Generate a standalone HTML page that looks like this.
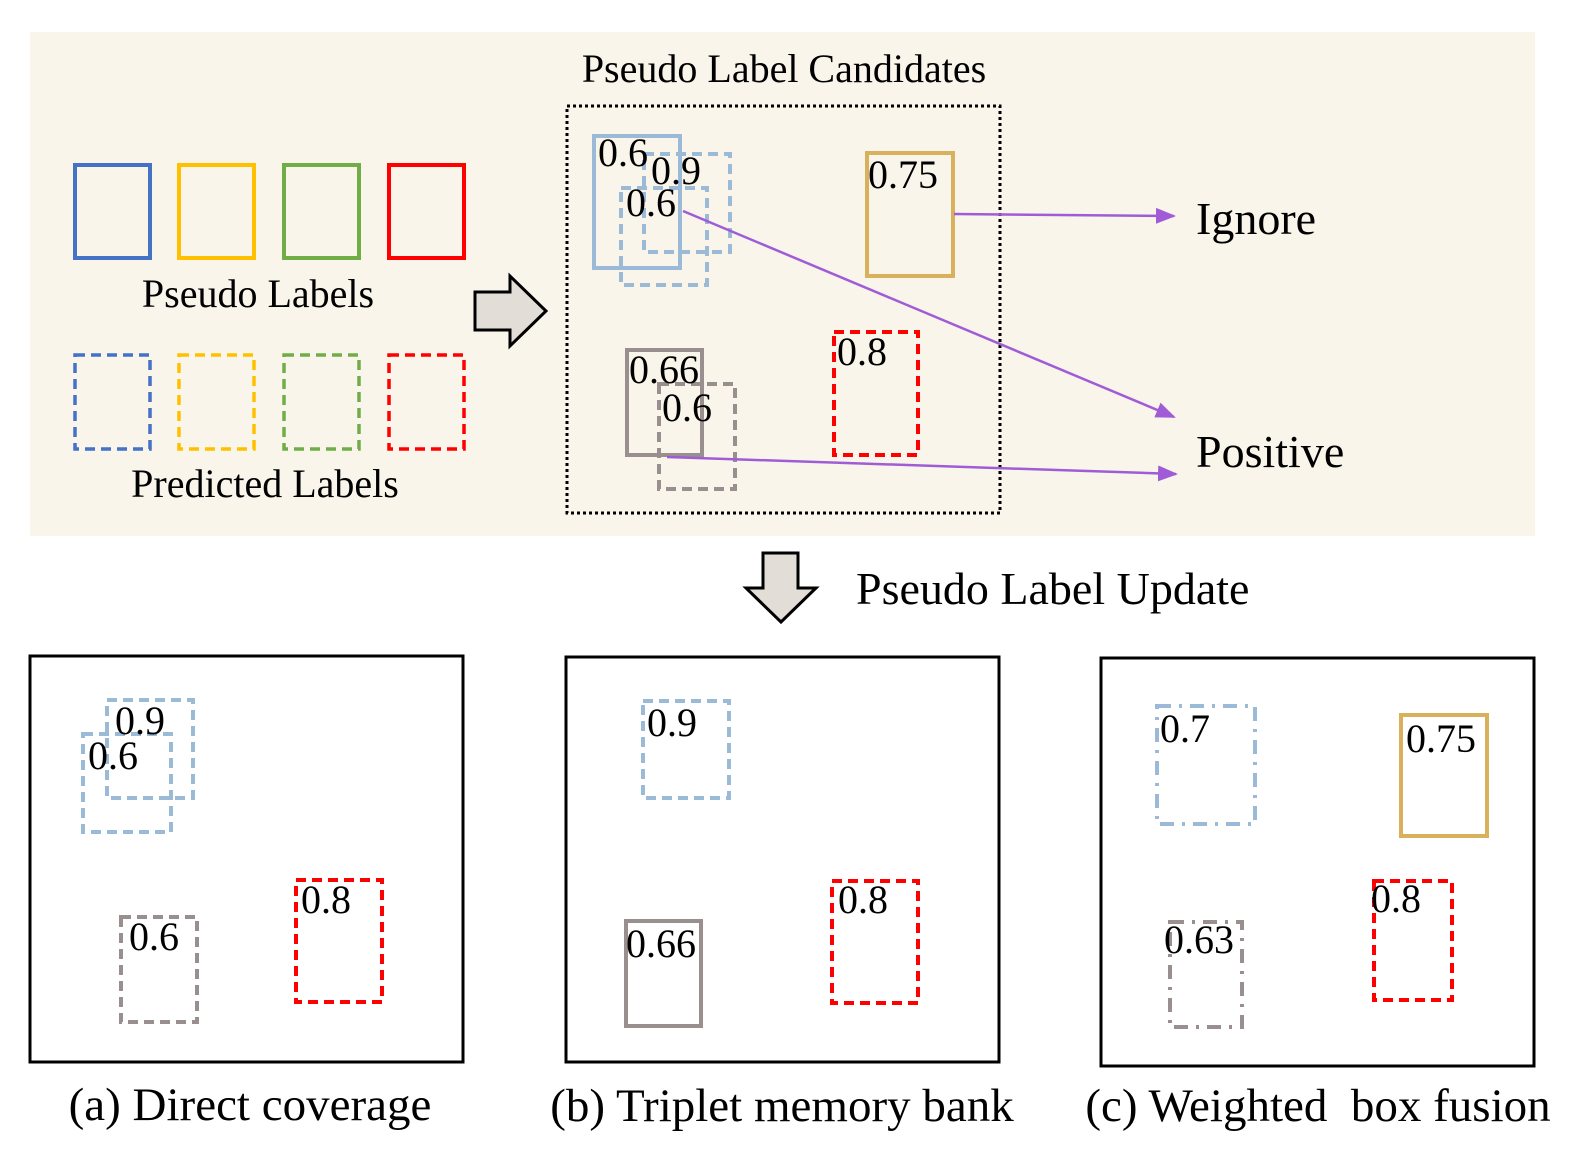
<!DOCTYPE html>
<html><head><style>html,body{margin:0;padding:0;overflow:hidden;background:#fff}svg{display:block}text{font-family:"Liberation Serif",serif;fill:#000}</style></head><body>
<svg width="1576" height="1166" viewBox="0 0 1576 1166" xmlns="http://www.w3.org/2000/svg">
<defs>
<marker id="ah2" viewBox="0 0 10 10" refX="9" refY="5" markerWidth="20" markerHeight="16" orient="auto" markerUnits="userSpaceOnUse" preserveAspectRatio="none"><path d="M0,0 L10,5 L0,10z" fill="#a05cd6"/></marker></defs>
<rect x="30" y="32" width="1505" height="504" fill="#f9f5eb"/>
<g fill="none" stroke-width="4">
<rect x="75" y="165" width="75" height="93" stroke="#4472c4"/>
<rect x="179" y="165" width="75" height="93" stroke="#ffc000"/>
<rect x="284" y="165" width="75" height="93" stroke="#70ad47"/>
<rect x="389" y="165" width="75" height="93" stroke="#ff0000"/>
<g stroke-dasharray="10,6" stroke-width="3.5">
<rect x="75" y="355" width="75" height="94" stroke="#4472c4"/>
<rect x="179" y="355" width="75" height="94" stroke="#ffc000"/>
<rect x="284" y="355" width="75" height="94" stroke="#70ad47"/>
<rect x="389" y="355" width="75" height="94" stroke="#ff0000"/>
</g></g>
<text x="258" y="307" font-size="40" text-anchor="middle">Pseudo Labels</text>
<text x="265" y="497" font-size="40" text-anchor="middle">Predicted Labels</text>
<path d="M475,292 H510 V276 L546,311 L510,346 V330 H475Z" fill="#e3ddd8" stroke="#000" stroke-width="3"/>
<text x="784" y="82" font-size="40" text-anchor="middle">Pseudo Label Candidates</text>
<rect x="567" y="106" width="433" height="407" fill="none" stroke="#000" stroke-width="3" stroke-dasharray="3,3"/>
<g fill="none" stroke-width="4">
<rect x="594" y="136" width="86" height="132" stroke="#9bbad8"/>
<rect x="644" y="154" width="86" height="98" stroke="#9bbad8" stroke-dasharray="10,6"/>
<rect x="621" y="188" width="86" height="97" stroke="#9bbad8" stroke-dasharray="10,6"/>
<rect x="867" y="153" width="86" height="123" stroke="#d9b05c"/>
<rect x="627" y="350" width="75" height="105" stroke="#9a8f8f"/>
<rect x="659" y="384" width="76" height="105" stroke="#9a8f8f" stroke-dasharray="10,6"/>
<rect x="834" y="332" width="84" height="123" stroke="#ff0000" stroke-dasharray="10,6"/>
</g>
<g font-size="40">
<text x="598" y="166">0.6</text><text x="651" y="184">0.9</text><text x="626" y="216">0.6</text>
<text x="868" y="188">0.75</text><text x="629" y="383">0.66</text><text x="662" y="421">0.6</text><text x="837" y="365">0.8</text>
</g>
<g stroke="#a05cd6" stroke-width="2.5" fill="none">
<line x1="683" y1="211" x2="1174" y2="417" marker-end="url(#ah2)"/>
<line x1="954" y1="214" x2="1174" y2="216" marker-end="url(#ah2)"/>
<line x1="667" y1="457" x2="1176" y2="474" marker-end="url(#ah2)"/>
</g>
<text x="1196" y="234" font-size="46">Ignore</text>
<text x="1196" y="467" font-size="46">Positive</text>
<path d="M763,553 H798 V588 H816 L781,622 L746,588 H763Z" fill="#e3ddd8" stroke="#000" stroke-width="3"/>
<text x="856" y="604" font-size="46">Pseudo Label Update</text>
<g fill="none" stroke="#000" stroke-width="3">
<rect x="30" y="656" width="433" height="406"/>
<rect x="566" y="657" width="433" height="405"/>
<rect x="1101" y="658" width="433" height="408"/>
</g>
<g fill="none" stroke-width="4">
<rect x="107" y="700" width="86" height="98" stroke="#9bbad8" stroke-dasharray="10,6"/>
<rect x="83" y="734" width="88" height="98" stroke="#9bbad8" stroke-dasharray="10,6"/>
<rect x="121" y="917" width="76" height="105" stroke="#9a8f8f" stroke-dasharray="10,6"/>
<rect x="296" y="880" width="86" height="122" stroke="#ff0000" stroke-dasharray="10,6"/>
<rect x="643" y="701" width="86" height="97" stroke="#9bbad8" stroke-dasharray="10,6"/>
<rect x="626" y="921" width="75" height="105" stroke="#9a8f8f"/>
<rect x="832" y="881" width="86" height="122" stroke="#ff0000" stroke-dasharray="10,6"/>
<rect x="1157" y="706" width="98" height="118" stroke="#9bbad8" stroke-dasharray="14,8,3,8"/>
<rect x="1401" y="715" width="86" height="121" stroke="#d9b05c"/>
<rect x="1170" y="922" width="72" height="105" stroke="#9a8f8f" stroke-dasharray="14,8,3,8"/>
<rect x="1374" y="881" width="78" height="119" stroke="#ff0000" stroke-dasharray="10,6"/>
</g>
<g font-size="40">
<text x="115" y="734">0.9</text><text x="88" y="769">0.6</text><text x="129" y="950">0.6</text><text x="301" y="913">0.8</text>
<text x="647" y="736">0.9</text><text x="626" y="957">0.66</text><text x="838" y="913">0.8</text>
<text x="1160" y="742">0.7</text><text x="1406" y="752">0.75</text><text x="1164" y="953">0.63</text><text x="1371" y="912">0.8</text>
</g>
<g font-size="47">
<text x="250" y="1120" text-anchor="middle">(a) Direct coverage</text>
<text x="782" y="1121" text-anchor="middle">(b) Triplet memory bank</text>
<text x="1318" y="1121" text-anchor="middle" xml:space="preserve">(c) Weighted  box fusion</text>
</g>
</svg>
</body></html>
